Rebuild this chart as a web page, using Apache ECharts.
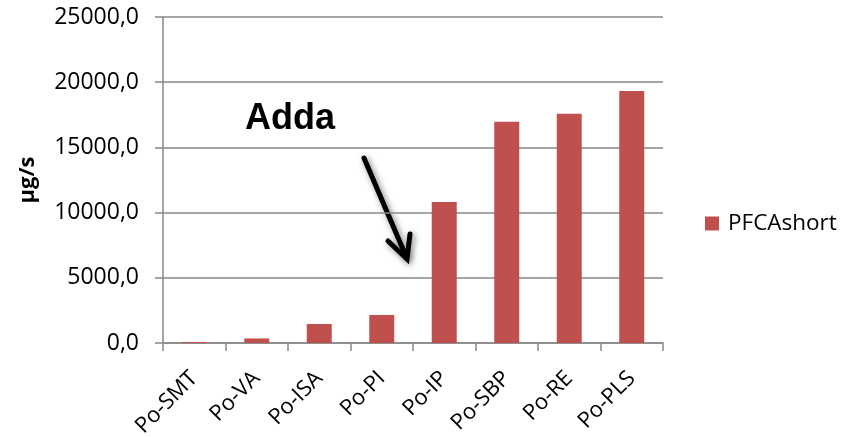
<!DOCTYPE html>
<html><head><meta charset="utf-8">
<script src="https://cdn.jsdelivr.net/npm/echarts@6/dist/echarts.min.js"></script>
<style>html,body{margin:0;padding:0;background:#fff}#c{width:857px;height:437px}</style>
</head><body><div id="c"></div>
<script>
const categories = ['Po-SMT','Po-VA','Po-ISA','Po-PI','Po-IP','Po-SBP','Po-RE','Po-PLS'];
const seriesName = 'PFCAshort';
const values = [80, 350, 1460, 2150, 10820, 16960, 17580, 19320];
const yMin = 0, yMax = 25000, yStep = 5000;

const chart = echarts.init(document.getElementById('c'));
const font = '"Open Sans", sans-serif';
chart.setOption({
  animation: false,
  backgroundColor: '#ffffff',
  grid: {left: 163, right: 194, top: 17, bottom: 94, containLabel: false, outerBoundsMode: 'none'},
  legend: {
    data: [seriesName], orient: 'vertical', left: 700, top: 207,
    itemWidth: 14, itemHeight: 14, itemGap: 0, icon: 'rect',
    textStyle: {fontFamily: font, fontSize: 22.5, color: '#000', padding: [0,0,0,4]}
  },
  xAxis: {
    type: 'category', data: categories,
    axisLine: {lineStyle: {color: '#888', width: 1.5}},
    axisTick: {show: true, length: 8, lineStyle: {color: '#888', width: 1.5}},
    axisLabel: {rotate: 45, margin: 32, fontFamily: font, fontSize: 22, color: '#000', interval: 0}
  },
  yAxis: {
    type: 'value', min: yMin, max: yMax, interval: yStep,
    name: 'µg/s', nameLocation: 'middle', nameGap: 124, nameRotate: 90,
    nameTextStyle: {fontFamily: font, fontSize: 22, fontWeight: 'bold', color: '#000'},
    axisLine: {show: true, lineStyle: {color: '#888', width: 1.5}},
    axisTick: {show: true, length: 8, lineStyle: {color: '#888', width: 1.5}},
    splitLine: {lineStyle: {color: '#888', width: 1.5}},
    axisLabel: {margin: 24, fontFamily: font, fontSize: 23, color: '#000',
      formatter: v => v.toFixed(1).replace('.', ',')}
  },
  series: [{
    name: seriesName, type: 'bar', data: values, barCategoryGap: '60%',
    itemStyle: {color: '#C0504D'}
  }],
  graphic: [
    {type: 'text', left: 245, top: 101, style: {text: 'Adda', fontFamily: '"Liberation Sans", Arial, sans-serif', fontSize: 36, fontWeight: 'bold', fill: '#000'}},
    {type: 'line', shape: {x1: 364, y1: 158, x2: 405, y2: 254},
      style: {stroke: '#000', lineWidth: 5, lineCap: 'round', shadowBlur: 6, shadowColor: 'rgba(0,0,0,0.5)', shadowOffsetX: 2, shadowOffsetY: 2}},
    {type: 'polyline', shape: {points: [[388, 241], [407, 259], [410, 234]]},
      style: {stroke: '#000', lineWidth: 5, lineCap: 'round', lineJoin: 'miter', fill: null, shadowBlur: 6, shadowColor: 'rgba(0,0,0,0.5)', shadowOffsetX: 2, shadowOffsetY: 2}}
  ]
});
</script></body></html>
